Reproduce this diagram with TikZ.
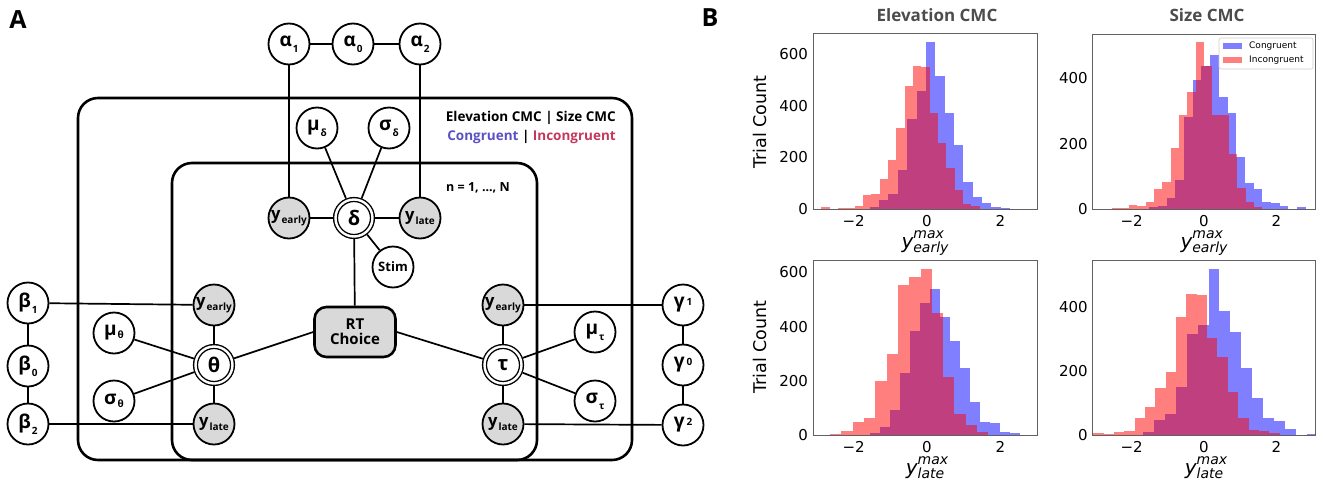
\documentclass[tikz,border=0pt]{standalone}
\usepackage{fontspec}
\setmainfont{Open Sans}
\newfontfamily\mplfont{DejaVu Sans}[ItalicFont={DejaVu Sans Oblique}]
\usetikzlibrary{positioning}

\definecolor{ObservedColor}{rgb}{0.85,0.85,0.85}
\definecolor{CongColor}{RGB}{90,80,196}
\definecolor{IncongColor}{RGB}{196,56,92}
\definecolor{SpineColor}{rgb}{0.38,0.38,0.38}
\definecolor{TitleColor}{rgb}{0.3,0.3,0.3}

\newcommand{\fsz}[1]{\fontsize{#1}{#1}\selectfont}
\newcommand{\lowidx}[2][-6pt]{\kern1pt\raisebox{#1}{\fsz{10}#2}}
\newcommand{\mididx}[1]{\kern2pt\raisebox{2pt}{\fsz{10}#1}}
\newcommand{\ymaxlabel}[1]{\itshape\fsz{20}y\rlap{\raisebox{10pt}{\fsz{14}max}}\raisebox{-4pt}{\fsz{14}#1}}

\tikzstyle{var-base}=[circle,
                      draw=black,
                      line width=1.8pt,
                      minimum size=41pt,
                      inner sep=0pt,
                      font=\bfseries\fsz{19}
                     ]
\tikzstyle{param}=[var-base, fill=white]
\tikzstyle{observed}=[var-base, fill=ObservedColor, font=\bfseries\fsz{16.5}]
\tikzstyle{latent}=[var-base, fill=white, line width=1.4pt, double=white,
                    double distance=2.4pt, minimum size=37pt, outer sep=2.6pt,
                    font=\bfseries\fsz{20}]
\tikzstyle{outcome}=[rectangle, draw=black, fill=ObservedColor, rounded corners=12pt,
                     line width=2.6pt, minimum width=81pt, minimum height=50pt,
                     align=center, font=\bfseries\fsz{15}]
\tikzstyle{plate}=[rectangle, draw=black, rounded corners=20pt, line width=2.6pt]
\tikzstyle{link}=[line width=1.7pt]
\tikzstyle{plate-label}=[font=\bfseries\fsz{13.5}, inner sep=0pt]
\tikzstyle{panel-letter}=[font=\bfseries\fsz{25}, inner sep=0pt]

\tikzstyle{cong-bar}=[fill=blue, fill opacity=0.5]
\tikzstyle{incong-bar}=[fill=red, fill opacity=0.5]
\tikzstyle{axes-frame}=[draw=SpineColor, line width=0.9pt]
\tikzstyle{tick-label}=[font=\mplfont\fsz{15}, inner sep=0pt]
\tikzstyle{axis-label}=[font=\mplfont\fsz{17.5}, inner sep=0pt]
\tikzstyle{panel-title}=[font=\bfseries\fsz{17}, text=TitleColor, inner sep=0pt]
\tikzstyle{legend-box}=[rectangle, draw=black!20, fill=white, rounded corners=2pt, line width=0.6pt]
\tikzstyle{legend-text}=[font=\mplfont\fsz{9}, inner sep=0pt]

\begin{document}
\begin{tikzpicture}[x=1pt, y=-1pt]
\useasboundingbox (0,0) rectangle (1325,485);

\node at (18,20)  (letter_a) [panel-letter] {A};
\node at (710,18) (letter_b) [panel-letter] {B};

% plates
\node at (355,279)     (plate_cmc)   [plate, minimum width=554pt, minimum height=362pt] {};
\node at (354.5,311.5) (plate_trial) [plate, minimum width=365pt, minimum height=297pt] {};
\node at (616,118) (label_cmc)   [plate-label, anchor=east] {Elevation CMC | Size CMC};
\node at (616,137) (label_cong)  [plate-label, anchor=east] {\textcolor{CongColor}{Congruent} | \textcolor{IncongColor}{Incongruent}};
\node at (446,188) (label_trial) [plate-label, anchor=west, font=\bfseries\fsz{12.5}] {n = 1, ..., N};

% delta branch
\node at (289,44)  (alpha_1)   [param]    {α\lowidx{1}};
\node at (353,44)  (alpha_0)   [param]    {α\lowidx{0}};
\node at (420,44)  (alpha_2)   [param]    {α\lowidx{2}};
\node at (317,128) (mu_delta)  [param]    {μ\lowidx{δ}};
\node at (389,128) (sig_delta) [param]    {σ\lowidx{δ}};
\node at (289,218) (early_d)   [observed] {y\lowidx[-3.5pt]{early}};
\node at (354,218) (delta)     [latent]   {δ};
\node at (420,218) (late_d)    [observed] {y\lowidx[-3.5pt]{late}};
\node at (393,267) (stim)      [param, font=\bfseries\fsz{13}] {Stim};
\node at (355,332) (rt)        [outcome]  {RT\\Choice};

% theta branch
\node at (28,303)  (beta_1)    [param]    {β\lowidx{1}};
\node at (28,366)  (beta_0)    [param]    {β\lowidx{0}};
\node at (28,424)  (beta_2)    [param]    {β\lowidx{2}};
\node at (114,333) (mu_theta)  [param]    {μ\lowidx[-3pt]{θ}};
\node at (114,401) (sig_theta) [param]    {σ\lowidx[-3pt]{θ}};
\node at (214,305) (early_t)   [observed] {y\lowidx[-3.5pt]{early}};
\node at (214,365) (theta)     [latent]   {θ};
\node at (214,424) (late_t)    [observed] {y\lowidx[-3.5pt]{late}};

% tau branch
\node at (503,305) (early_r)   [observed] {y\lowidx[-3.5pt]{early}};
\node at (503,365) (tau)       [latent]   {τ};
\node at (503,424) (late_r)    [observed] {y\lowidx[-3.5pt]{late}};
\node at (595,332) (mu_tau)    [param]    {μ\lowidx{τ}};
\node at (595,401) (sig_tau)   [param]    {σ\lowidx{τ}};
\node at (683,305) (gamma_1)   [param]    {γ\mididx{1}};
\node at (683,365) (gamma_0)   [param]    {γ\mididx{0}};
\node at (683,425) (gamma_2)   [param]    {γ\mididx{2}};

\draw[link] (alpha_1) -- (alpha_0);
\draw[link] (alpha_0) -- (alpha_2);
\draw[link] (alpha_1) -- (early_d);
\draw[link] (alpha_2) -- (late_d);
\draw[link] (early_d) -- (delta);
\draw[link] (delta) -- (late_d);
\draw[link] (mu_delta) -- (delta);
\draw[link] (sig_delta) -- (delta);
\draw[link] (delta) -- (stim);
\draw[link] (delta) -- (rt);
\draw[link] (beta_1) -- (beta_0);
\draw[link] (beta_0) -- (beta_2);
\draw[link] (beta_1) -- (early_t);
\draw[link] (beta_2) -- (late_t);
\draw[link] (early_t) -- (theta);
\draw[link] (theta) -- (late_t);
\draw[link] (mu_theta) -- (theta);
\draw[link] (sig_theta) -- (theta);
\draw[link] (theta) -- (rt.west);
\draw[link] (rt.east) -- (tau);
\draw[link] (early_r) -- (tau);
\draw[link] (tau) -- (late_r);
\draw[link] (mu_tau) -- (tau);
\draw[link] (sig_tau) -- (tau);
\draw[link] (gamma_1) -- (gamma_0);
\draw[link] (gamma_0) -- (gamma_2);
\draw[link] (early_r) -- (gamma_1);
\draw[link] (late_r) -- (gamma_2);

% histograms
\node at (937,15)  (title_elev) [panel-title] {Elevation CMC};
\node at (1207,15) (title_size) [panel-title] {Size CMC};
\node at (760,122) (ylabel_early) [axis-label, rotate=90] {Trial Count};
\node at (760,347) (ylabel_late)  [axis-label, rotate=90] {Trial Count};

% elevation, early
\begin{scope}[shift={(927,209)}, x=36.7pt, y=0.258pt]
  \begin{scope}
    \clip (-3.1,0) rectangle (3.0,680);
    \foreach \h [count=\i from 0] in {9,35,58,151,347,457,646,516,373,248,106,45,25,9,5}
      \fill[cong-bar] (-1.56+\i*0.255,0) rectangle ++(0.255,\h);
    \foreach \h [count=\i from 0] in {8,0,2,5,12,54,58,115,190,315,477,555,550,371,255,158,74,20,10}
      \fill[incong-bar] (-2.88+\i*0.227,0) rectangle ++(0.227,\h);
  \end{scope}
  \draw[axes-frame] (-3.1,0) rectangle (3.0,680);
  \foreach \t in {0,200,400,600}
    \node (ee_y\t) [tick-label, left=5pt] at (-3.1,\t) {\t};
  \foreach \t/\s [count=\k] in {-2/−2,0/0,2/2}
    \node (ee_x\k) [tick-label, below=6pt] at (\t,0) {\s};
\end{scope}

% size, early
\begin{scope}[shift={(1204,209)}, x=36.2pt, y=0.327pt]
  \begin{scope}
    \clip (-3.07,0) rectangle (3.07,535);
    \foreach \h [count=\i from 0] in {5,10,33,89,280,395,438,471,344,295,158,79,61,20,17,10,0,7}
      \fill[cong-bar] (-1.51+\i*0.24,0) rectangle ++(0.24,\h);
    \foreach \h [count=\i from 0] in {4,4,12,10,22,60,84,186,286,359,510,438,288,288,168,63,22,5}
      \fill[incong-bar] (-2.53+\i*0.23,0) rectangle ++(0.23,\h);
  \end{scope}
  \draw[axes-frame] (-3.07,0) rectangle (3.07,535);
  \foreach \t in {0,200,400}
    \node (se_y\t) [tick-label, left=5pt] at (-3.07,\t) {\t};
  \foreach \t/\s [count=\k] in {-2/−2,0/0,2/2}
    \node (se_x\k) [tick-label, below=6pt] at (\t,0) {\s};
\end{scope}
\node at (1266,53.5) (legend) [legend-box, minimum width=94pt, minimum height=31pt] {};
\fill[cong-bar] (1223,43) rectangle (1242,49);
\fill[incong-bar] (1223,57) rectangle (1242,63);
\node at (1249,46) (legend_cong)   [legend-text, anchor=west] {Congruent};
\node at (1249,60) (legend_incong) [legend-text, anchor=west] {Incongruent};

% elevation, late
\begin{scope}[shift={(927,435)}, x=36.7pt, y=0.271pt]
  \begin{scope}
    \clip (-3.1,0) rectangle (3.0,645);
    \foreach \h [count=\i from 0] in {6,31,92,228,384,486,539,437,347,246,120,47,43,10,6}
      \fill[cong-bar] (-1.55+\i*0.2725,0) rectangle ++(0.2725,\h);
    \foreach \h [count=\i from 0] in {5,15,47,64,199,298,553,584,612,449,215,76,37,10}
      \fill[incong-bar] (-2.64+\i*0.308,0) rectangle ++(0.308,\h);
  \end{scope}
  \draw[axes-frame] (-3.1,0) rectangle (3.0,645);
  \foreach \t in {0,200,400,600}
    \node (el_y\t) [tick-label, left=5pt] at (-3.1,\t) {\t};
  \foreach \t/\s [count=\k] in {-2/−2,0/0,2/2}
    \node (el_x\k) [tick-label, below=6pt] at (\t,0) {\s};
\end{scope}

% size, late
\begin{scope}[shift={(1204,435)}, x=36.2pt, y=0.3208pt]
  \begin{scope}
    \clip (-3.07,0) rectangle (3.07,545);
    \foreach \h [count=\i from 0] in {8,47,64,149,316,343,517,388,322,208,116,54,45,19,0,2}
      \fill[cong-bar] (-1.68+\i*0.301,0) rectangle ++(0.301,\h);
    \foreach \h [count=\i from 0] in {7,2,10,14,54,88,148,195,367,441,436,303,244,133,54,16,14,5}
      \fill[incong-bar] (-3.06+\i*0.286,0) rectangle ++(0.286,\h);
  \end{scope}
  \draw[axes-frame] (-3.07,0) rectangle (3.07,545);
  \foreach \t in {0,200,400}
    \node (sl_y\t) [tick-label, left=5pt] at (-3.07,\t) {\t};
  \foreach \t/\s [count=\k] in {-2/−2,0/0,2/2}
    \node (sl_x\k) [tick-label, below=6pt] at (\t,0) {\s};
\end{scope}

\node at (925,248)  (xlabel_ee) [axis-label, anchor=base] {\ymaxlabel{early}};
\node at (1204,248) (xlabel_se) [axis-label, anchor=base] {\ymaxlabel{early}};
\node at (925,474)  (xlabel_el) [axis-label, anchor=base] {\ymaxlabel{late}};
\node at (1204,474) (xlabel_sl) [axis-label, anchor=base] {\ymaxlabel{late}};
\end{tikzpicture}
\end{document}
